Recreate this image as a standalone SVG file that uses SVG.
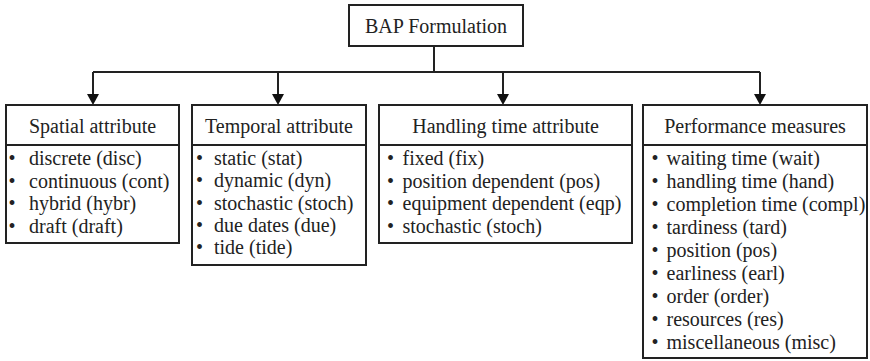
<svg xmlns="http://www.w3.org/2000/svg" width="870" height="361" viewBox="0 0 870 361">
  <style>
    .box { fill: #ffffff; stroke: #222222; stroke-width: 2; }
    .rule { stroke: #222222; stroke-width: 2; }
    .wire { fill: none; stroke: #222222; stroke-width: 2; }
    .head-arrow { fill: #111111; stroke: none; }
    text { font-family: 'Liberation Serif', 'Times New Roman', serif; font-size: 20px; fill: #222222; }
    .head { text-anchor: middle; }
  </style>
  <rect width="870" height="361" fill="#ffffff"/>

  <!-- connectors: trunk, bus and four arrowed drops -->
  <g id="connectors">
    <path class="wire" d="M434,46 V72"/>
    <path class="wire" d="M93,72 H760"/>
    <path class="wire" d="M93,72 V95"/>
    <path class="wire" d="M278,72 V95"/>
    <path class="wire" d="M503,72 V95"/>
    <path class="wire" d="M760,72 V95"/>
    <path class="head-arrow" d="M87,94 L99,94 L93,105 Z"/>
    <path class="head-arrow" d="M272,94 L284,94 L278,105 Z"/>
    <path class="head-arrow" d="M497,94 L509,94 L503,105 Z"/>
    <path class="head-arrow" d="M754,94 L766,94 L760,105 Z"/>
  </g>

  <!-- root -->
  <g id="bap">
    <rect class="box" x="349" y="5" width="174" height="41"/>
    <text class="head" x="436" y="33">BAP Formulation</text>
  </g>

  <!-- spatial -->
  <g id="spatial">
    <rect class="box" x="6" y="105" width="173" height="138"/>
    <line class="rule" x1="6" y1="145" x2="179" y2="145"/>
    <text class="head" x="92.5" y="133">Spatial attribute</text>
    <text x="8.5" y="165">&#8226;</text><text x="29" y="165">discrete (disc)</text>
    <text x="8.5" y="187.5">&#8226;</text><text x="29" y="187.5">continuous (cont)</text>
    <text x="8.5" y="210">&#8226;</text><text x="29" y="210">hybrid (hybr)</text>
    <text x="8.5" y="232.5">&#8226;</text><text x="29" y="232.5">draft (draft)</text>
  </g>

  <!-- temporal -->
  <g id="temporal">
    <rect class="box" x="192" y="105" width="174" height="160"/>
    <line class="rule" x1="192" y1="145" x2="366" y2="145"/>
    <text class="head" x="279" y="133">Temporal attribute</text>
    <text x="196" y="165">&#8226;</text><text x="214" y="165">static (stat)</text>
    <text x="196" y="187.3">&#8226;</text><text x="214" y="187.3">dynamic (dyn)</text>
    <text x="196" y="209.6">&#8226;</text><text x="214" y="209.6">stochastic (stoch)</text>
    <text x="196" y="231.9">&#8226;</text><text x="214" y="231.9">due dates (due)</text>
    <text x="196" y="254.2">&#8226;</text><text x="214" y="254.2">tide (tide)</text>
  </g>

  <!-- handling time -->
  <g id="handling">
    <rect class="box" x="379" y="105" width="253" height="138"/>
    <line class="rule" x1="379" y1="145" x2="632" y2="145"/>
    <text class="head" x="505.5" y="133">Handling time attribute</text>
    <text x="387" y="165">&#8226;</text><text x="402.5" y="165">fixed (fix)</text>
    <text x="387" y="187.5">&#8226;</text><text x="402.5" y="187.5">position dependent (pos)</text>
    <text x="387" y="210">&#8226;</text><text x="402.5" y="210">equipment dependent (eqp)</text>
    <text x="387" y="232.5">&#8226;</text><text x="402.5" y="232.5">stochastic (stoch)</text>
  </g>

  <!-- performance -->
  <g id="performance">
    <rect class="box" x="643" y="105" width="224" height="253"/>
    <line class="rule" x1="643" y1="145" x2="867" y2="145"/>
    <text class="head" x="755" y="133">Performance measures</text>
    <text x="651.5" y="164.5">&#8226;</text><text x="666.5" y="164.5">waiting time (wait)</text>
    <text x="651.5" y="187.5">&#8226;</text><text x="666.5" y="187.5">handling time (hand)</text>
    <text x="651.5" y="210.5">&#8226;</text><text x="666.5" y="210.5">completion time (compl)</text>
    <text x="651.5" y="233.5">&#8226;</text><text x="666.5" y="233.5">tardiness (tard)</text>
    <text x="651.5" y="256.5">&#8226;</text><text x="666.5" y="256.5">position (pos)</text>
    <text x="651.5" y="279.5">&#8226;</text><text x="666.5" y="279.5">earliness (earl)</text>
    <text x="651.5" y="302.5">&#8226;</text><text x="666.5" y="302.5">order (order)</text>
    <text x="651.5" y="325.5">&#8226;</text><text x="666.5" y="325.5">resources (res)</text>
    <text x="651.5" y="348.5">&#8226;</text><text x="666.5" y="348.5">miscellaneous (misc)</text>
  </g>
</svg>
